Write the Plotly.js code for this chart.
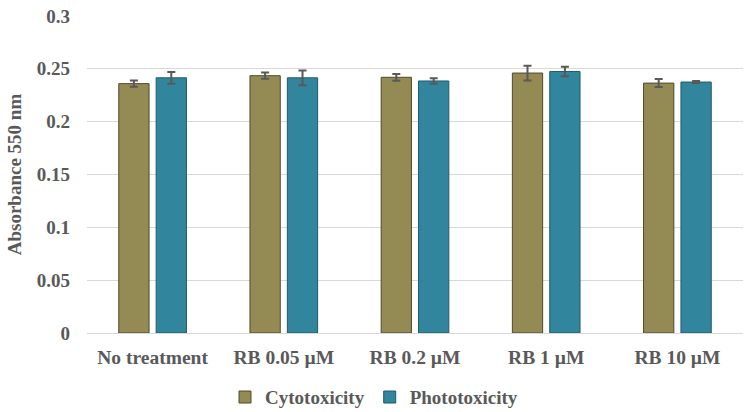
<!DOCTYPE html>
<html>
<head>
<meta charset="utf-8">
<script src="https://cdn.plot.ly/plotly-3.0.1.min.js"></script>
<style>html,body{margin:0;padding:0;background:#fff;}#chart{width:748px;height:412px;}</style>
</head>
<body>
<div id="chart"></div>
<script>
const categories = ["No treatment", "RB 0.05 µM", "RB 0.2 µM", "RB 1 µM", "RB 10 µM"];
const cytotoxicity = [0.236, 0.2435, 0.242, 0.246, 0.2365];
const cytotoxicityErr = [0.003, 0.003, 0.0032, 0.007, 0.0038];
const phototoxicity = [0.2415, 0.2415, 0.2385, 0.2475, 0.2375];
const phototoxicityErr = [0.0055, 0.007, 0.0025, 0.0045, 0.001];
const yTicks = [0, 0.05, 0.1, 0.15, 0.2, 0.25, 0.3];

const font = "'Liberation Serif', 'DejaVu Serif', serif";
const gray = "#595959";

const traces = [
  {
    type: "bar", name: "Cytotoxicity", x: categories, y: cytotoxicity,
    marker: {color: "#948A54", line: {color: "#4F4A2C", width: 1}},
    error_y: {type: "data", array: cytotoxicityErr, visible: true, color: gray, thickness: 2, width: 4}
  },
  {
    type: "bar", name: "Phototoxicity", x: categories, y: phototoxicity,
    marker: {color: "#31859C", line: {color: "#215A6A", width: 1}},
    error_y: {type: "data", array: phototoxicityErr, visible: true, color: gray, thickness: 2, width: 4}
  }
];

const layout = {
  width: 748, height: 412,
  margin: {l: 87, r: 5, t: 16, b: 79},
  paper_bgcolor: "#fff", plot_bgcolor: "#fff",
  barmode: "group", bargap: 0.43, bargroupgap: 0.19,
  font: {family: font, color: gray, size: 19},
  showlegend: true,
  legend: {orientation: "h", x: 0.4375, xanchor: "center", yref: "container", y: 0.036, yanchor: "middle",
           font: {family: font, size: 19, color: gray, weight: "bold"}, itemwidth: 30, traceorder: "normal"},
  xaxis: {
    type: "category", showgrid: false, showline: false, zeroline: false, ticks: "", automargin: false,
    ticklabelstandoff: 10,
    tickfont: {family: font, size: 19.5, color: gray, weight: "bold"}
  },
  yaxis: {
    range: [0, 0.3], tickvals: yTicks, ticktext: yTicks.map(v => String(v)), automargin: false,
    showgrid: true, gridcolor: "#D9D9D9", gridwidth: 1, zeroline: true, zerolinecolor: "#D9D9D9", zerolinewidth: 1,
    showline: false, ticks: "", ticklen: 0, ticklabelstandoff: 16,
    tickfont: {family: font, size: 19, color: gray, weight: "bold"},
    title: {text: "Absorbance 550 nm", font: {family: font, size: 19, color: gray, weight: "bold"}, standoff: 10}
  }
};

Plotly.newPlot("chart", traces, layout, {displayModeBar: false, staticPlot: true});
</script>
</body>
</html>
